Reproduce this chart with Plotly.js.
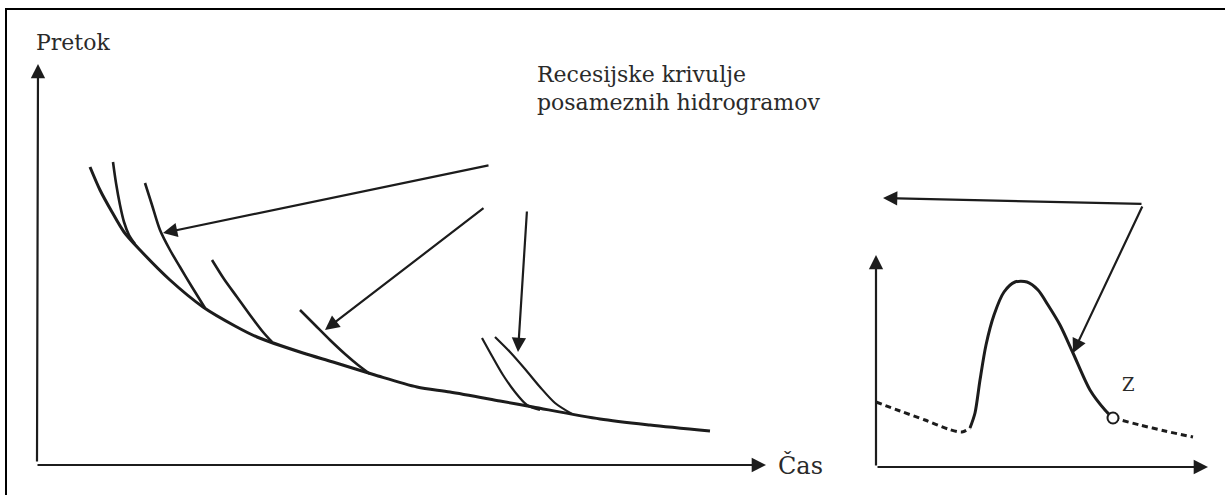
<!DOCTYPE html>
<html><head><meta charset="utf-8">
<script src="https://cdn.plot.ly/plotly-3.0.1.min.js"></script>
<style>html,body{margin:0;padding:0;background:#fff}#c{width:1225px;height:495px}</style>
</head><body><div id="c"></div>
<script>
// Master recession curve (main panel)
const masterX = [90,100,112,124,140,170,203,235,257,303,333,375,417,450,500,533,600,650,710];
const masterY = [167,190,212,232,250,280,307,326,337,353,362,375,387,392,401,407,419,425,431];
// Individual hydrograph recession curves
const rec1X = [113,116,120,124,129,135];
const rec1Y = [162,183,205,222,235,244];
const rec2X = [145,152,160,170,180,192,205];
const rec2Y = [183,205,230,250,267,287,308];
const rec3X = [212,224,237,250,263,272];
const rec3Y = [260,279,297,315,332,342];
const rec4X = [300,315,330,345,358,370];
const rec4Y = [310,325,340,354,365,374];
const rec5X = [482,492,503,515,527,540];
const rec5Y = [338,356,375,392,405,410];
const rec6X = [495,510,525,540,555,572];
const rec6Y = [337,352,369,387,403,414];
// Inset hydrograph
const hydroPreX = [876,900,925,948,962,970];
const hydroPreY = [402,411,420,429,432,428];
const hydroX = [970,975,980,986,994,1004,1015,1027,1038,1048,1060,1073,1090,1105,1113];
const hydroY = [428,413,380,345,315,292,282,282,290,305,325,353,390,410,418];
const hydroPostX = [1113,1140,1165,1193];
const hydroPostY = [418,425,431,437];
const pointZ = {x:[1113], y:[418], label:'Z'};
// Arrows: [tailX, tailY, headX, headY]
const arrows = [
  [490,165,163,233],
  [485,207,325,330],
  [527,210,518,352],
  [1143,204,883,198],
  [1143,205,1073,353],
  [37,463,38,64],
  [36,465,766,465],
  [876,467,876,255],
  [876,467,1208,467]
];
// Frame (top and left edge)
const frameX = [1226,6,6];
const frameY = [9,9,496];
// Texts
const labels = [
  {x:34, y:42, t:'Pretok', s:22},
  {x:535, y:74, t:'Recesijske krivulje', s:22},
  {x:535, y:102, t:'posameznih hidrogramov', s:22},
  {x:776, y:465, t:'Čas', s:24},
  {x:1120, y:384, t:'Z', s:18}
];

const ink = '#1c1c1c';
const ln = (x,y,w,dash)=>({x, y, mode:'lines', type:'scatter', hoverinfo:'skip',
  line:{color:ink, width:w||2.6, shape:'spline', smoothing:0.8, dash:dash||'solid'}});
const traces = [
  {x:frameX, y:frameY, mode:'lines', type:'scatter', line:{color:'#000', width:2}, hoverinfo:'skip'},
  ln(masterX, masterY, 3),
  ln(rec1X, rec1Y), ln(rec2X, rec2Y), ln(rec3X, rec3Y), ln(rec4X, rec4Y),
  ln(rec5X, rec5Y, 2.2), ln(rec6X, rec6Y, 2.2),
  ln(hydroPreX, hydroPreY, 3, '6px,4px'),
  ln(hydroX, hydroY, 3),
  ln(hydroPostX, hydroPostY, 3, '6px,4px'),
  {x:pointZ.x, y:pointZ.y, mode:'markers', type:'scatter', hoverinfo:'skip',
   marker:{symbol:'circle', size:11, color:'#fff', line:{color:ink, width:2}}}
];
const annotations = arrows.map(a=>({x:a[2], y:a[3], ax:a[0], ay:a[1], xref:'x', yref:'y', axref:'x', ayref:'y',
  text:'', showarrow:true, arrowhead:2, arrowsize:1.3, arrowwidth:2.2, arrowcolor:ink, standoff:0}));
labels.forEach(l=>annotations.push({x:l.x, y:l.y, xref:'x', yref:'y', text:l.t, showarrow:false,
  xanchor:'left', yanchor:'middle', font:{family:'DejaVu Serif', size:l.s, color:'#2a2a2a'}}));

Plotly.newPlot('c', traces, {
  width:1225, height:495, margin:{l:0,r:0,t:0,b:0}, showlegend:false,
  paper_bgcolor:'#fff', plot_bgcolor:'#fff',
  font:{family:'DejaVu Serif'},
  xaxis:{range:[0,1225], visible:false, fixedrange:true},
  yaxis:{range:[495,0], visible:false, fixedrange:true},
  annotations
}, {staticPlot:true});
</script></body></html>
